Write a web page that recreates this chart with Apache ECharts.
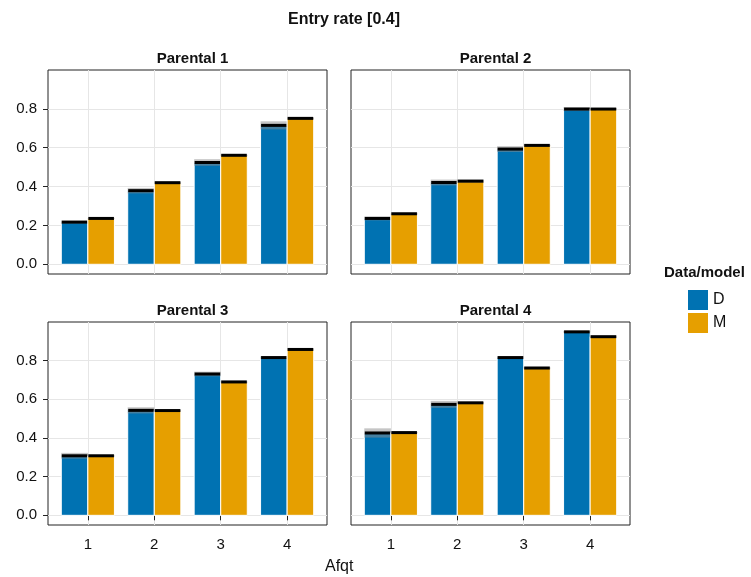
<!DOCTYPE html>
<html>
<head>
<meta charset="utf-8">
<script src="https://cdn.jsdelivr.net/npm/echarts@6/dist/echarts.min.js"></script>
<style>
  html, body { margin: 0; padding: 0; background: #fff; }
  #chart { width: 751px; height: 577px; }
</style>
</head>
<body>
<div id="chart"></div>
<script>
// Entry rate by Afqt group, one facet per parental group: data (D) vs model (M)
const categories = [1, 2, 3, 4];
const panelTitles = ['Parental 1', 'Parental 2', 'Parental 3', 'Parental 4'];
const groups = ['D', 'M'];
const yTicks = [0, 0.2, 0.4, 0.6, 0.8];

// Mean entry rate per Afqt group
const dataD = [
  [0.217, 0.379, 0.524, 0.715],
  [0.236, 0.421, 0.593, 0.799],
  [0.308, 0.543, 0.731, 0.816],
  [0.426, 0.574, 0.816, 0.949]
];
const dataM = [
  [0.236, 0.420, 0.561, 0.751],
  [0.260, 0.428, 0.612, 0.799],
  [0.308, 0.542, 0.690, 0.858],
  [0.428, 0.582, 0.762, 0.924]
];
// Half-width of the uncertainty band around each mean
const errD = [
  [0.008, 0.014, 0.017, 0.021],
  [0.010, 0.015, 0.015, 0.010],
  [0.015, 0.016, 0.012, 0.008],
  [0.024, 0.018, 0.006, 0.006]
];
const errM = [
  [0.003, 0.005, 0.004, 0.004],
  [0.006, 0.008, 0.004, 0.005],
  [0.006, 0.004, 0.006, 0.006],
  [0.004, 0.004, 0.006, 0.006]
];

const colors = { D: '#0072B2', M: '#E69F00' };
const fontFamily = '"Liberation Sans", Arial, Helvetica, sans-serif';

const grids = [
  { left: 48, top: 70, width: 279, height: 204 },
  { left: 351, top: 70, width: 279, height: 204 },
  { left: 48, top: 322, width: 279, height: 203 },
  { left: 351, top: 322, width: 279, height: 203 }
];

const chart = echarts.init(document.getElementById('chart'), null, { renderer: 'canvas' });

const grid = grids.map(g => Object.assign({}, g, {
  show: true, borderColor: '#222', borderWidth: 1, backgroundColor: '#fff'
}));

const xAxis = grids.map((g, i) => ({
  type: 'value', gridIndex: i, min: 0.4, max: 4.6,
  axisLine: { show: false },
  axisTick: { show: i >= 2, customValues: categories, length: 5, lineStyle: { color: '#222' } },
  axisLabel: { show: i >= 2, customValues: categories, fontSize: 15, color: '#111', fontFamily, margin: 12 },
  splitLine: { show: true, lineStyle: { color: '#e6e6e6', width: 1 } }
}));

const yAxis = grids.map((g, i) => ({
  type: 'value', gridIndex: i, min: -0.05, max: 1.0,
  axisLine: { show: false },
  axisTick: { show: i % 2 === 0, customValues: yTicks, length: 5, lineStyle: { color: '#222' } },
  axisLabel: {
    show: i % 2 === 0, customValues: yTicks, fontSize: 15, color: '#111', fontFamily, margin: 11,
    formatter: v => v.toFixed(1)
  },
  splitLine: { show: true, lineStyle: { color: '#e6e6e6', width: 1 } }
}));

// Bars with a mean crossbar and a translucent uncertainty band
function makeRender(offset) {
  return function (params, api) {
    const x = api.value(0), m = api.value(1), lo = api.value(2), hi = api.value(3);
    const x0 = offset < 0 ? x - 0.4 : x;
    const x1 = x0 + 0.4;
    const pBase = api.coord([x0, 0]);
    const pTop = api.coord([x1, m]);
    const pLo = api.coord([x0, lo]);
    const pHi = api.coord([x1, hi]);
    const color = api.visual('color');
    const left = pBase[0], w = pTop[0] - pBase[0];
    return {
      type: 'group',
      children: [
        { type: 'rect', shape: { x: left, y: pTop[1], width: w, height: pBase[1] - pTop[1] },
          style: { fill: color, stroke: '#fff', lineWidth: 1 } },
        { type: 'rect', shape: { x: left, y: pHi[1], width: w, height: Math.max(pLo[1] - pHi[1], 0.5) },
          style: { fill: 'rgba(140,140,140,0.5)' } },
        { type: 'rect', shape: { x: left + 0.5, y: pTop[1] - 1.5, width: w - 1, height: 3 },
          style: { fill: '#000' } }
      ]
    };
  };
}

const series = [];
for (let p = 0; p < 4; p++) {
  [['D', dataD, errD, -1], ['M', dataM, errM, 1]].forEach(([name, vals, errs, off]) => {
    series.push({
      type: 'custom', name, xAxisIndex: p, yAxisIndex: p,
      itemStyle: { color: colors[name] },
      renderItem: makeRender(off),
      encode: { x: 0, y: [1, 2, 3] },
      data: categories.map((c, k) => [c, vals[p][k], vals[p][k] - errs[p][k], vals[p][k] + errs[p][k]])
    });
  });
}

const title = [
  { text: 'Entry rate [0.4]', left: 339, top: 7, textAlign: 'center',
    textStyle: { fontSize: 16, fontWeight: 'bold', color: '#111', fontFamily } }
].concat(grids.map((g, i) => ({
  text: panelTitles[i], left: g.left + g.width / 2, top: g.top - 24, textAlign: 'center',
  textStyle: { fontSize: 15, fontWeight: 'bold', color: '#111', fontFamily }
})));

chart.setOption({
  backgroundColor: '#fff',
  animation: false,
  title,
  grid, xAxis, yAxis, series,
  legend: {
    data: groups, orient: 'vertical', left: 683, top: 285,
    itemWidth: 20, itemHeight: 20, itemGap: 3, icon: 'rect',
    textStyle: { fontSize: 16, color: '#111', fontFamily }
  },
  graphic: [
    { type: 'text', left: 664, top: 265,
      style: { text: 'Data/model', fontSize: 15, fontWeight: 'bold', fill: '#111', fontFamily } },
    { type: 'text', left: 325, top: 559,
      style: { text: 'Afqt', fontSize: 16, fill: '#111', fontFamily } }
  ]
});
</script>
</body>
</html>
